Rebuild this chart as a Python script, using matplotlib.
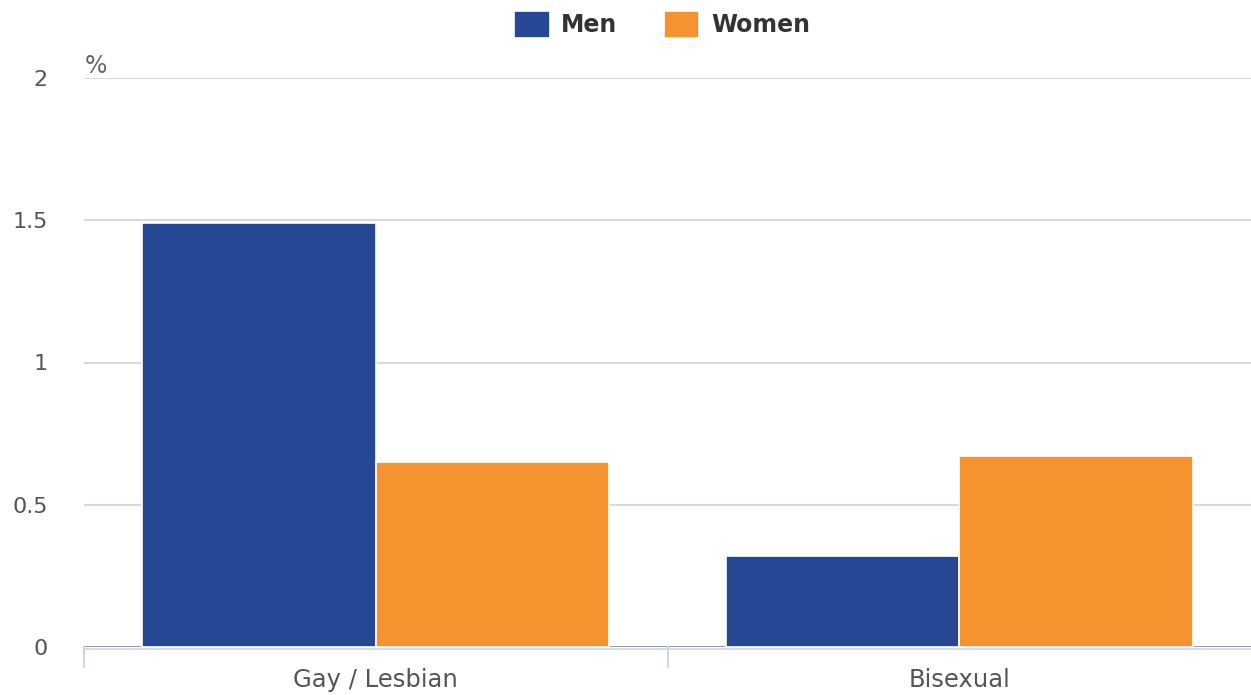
import matplotlib.pyplot as plt
import numpy as np

plt.rcParams['font.family'] = ['DejaVu Sans']

categories = ['Gay / Lesbian', 'Bisexual']
men = [1.49, 0.32]
women = [0.65, 0.67]
series_names = ['Men', 'Women']
y_ticks = [0, 0.5, 1, 1.5, 2]
y_tick_labels = ['0', '0.5', '1', '1.5', '2']

W, H = 1251, 695
fig = plt.figure(figsize=(W / 100, H / 100), dpi=100)
ax = fig.add_axes([84 / W, (H - 647) / H, (W - 84) / W, (647 - 78) / H])

x = np.arange(len(categories))
bw = 0.4
ax.bar(x - bw / 2, men, bw, color='#264894', edgecolor='white', linewidth=1.2,
       label=series_names[0], zorder=3)
ax.bar(x + bw / 2, women, bw, color='#f5942f', edgecolor='white', linewidth=1.2,
       label=series_names[1], zorder=3)

ax.set_xlim(-0.5, len(categories) - 0.5)
ax.set_ylim(0, 2)

# grid
for v in y_ticks[1:]:
    ax.axhline(v, color='#d9d9d9', lw=1.5, zorder=1)
ax.axhline(0, color='#8c9399', lw=2, zorder=2)

for s in ax.spines.values():
    s.set_visible(False)

ax.set_yticks(y_ticks)
ax.set_yticklabels(y_tick_labels)
ax.tick_params(axis='y', length=0, pad=26, labelsize=16, labelcolor='#555555')

ax.set_xticks(x)
ax.set_xticklabels(categories)
ax.tick_params(axis='x', length=0, pad=15, labelsize=17.5, labelcolor='#555555')

# bottom axis line + category boundary ticks
trans = ax.get_xaxis_transform()
ax.plot([-0.5, 1.5], [-0.003, -0.003], color='#ccd6eb', lw=1.2, zorder=1,
        transform=trans, clip_on=False)
for b in [-0.5, 0.5]:
    ax.plot([b, b], [0, -0.035], color='#ccd6eb', lw=1.5, transform=trans, clip_on=False)

ax.text(0.001, 1.0, '%', transform=ax.transAxes, fontsize=17, color='#666666',
        ha='left', va='bottom')

leg = fig.legend(loc='upper center', bbox_to_anchor=(662 / W, 1.0), ncol=2, frameon=False,
                 prop={'weight': 'bold', 'size': 17}, handlelength=1.5, handleheight=1.4,
                 columnspacing=1.95, handletextpad=0.5, borderaxespad=0.05)
for t in leg.get_texts():
    t.set_color('#333333')

fig.savefig('out.png', dpi=100)
